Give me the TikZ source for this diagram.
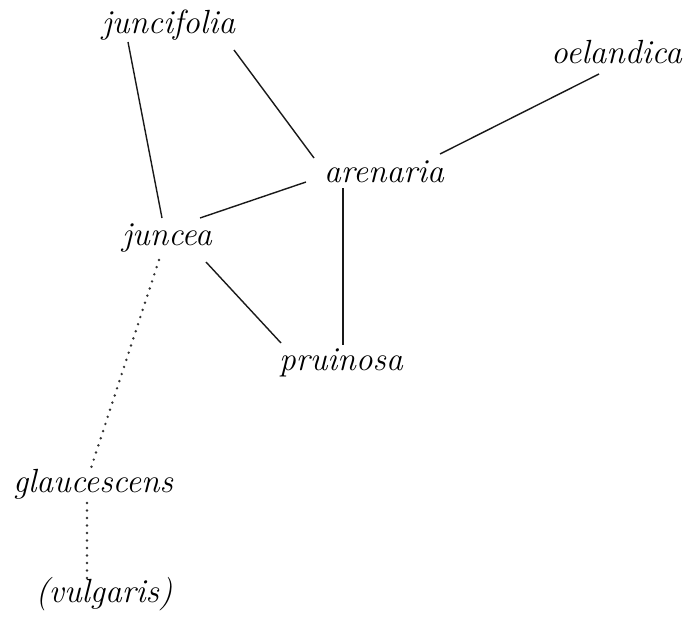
\documentclass[tikz,border=0pt]{standalone}
\usetikzlibrary{calc}
\begin{document}
\begin{tikzpicture}[x=1pt,y=-1pt,
  taxon/.style={inner sep=0pt,anchor=base,font=\fontsize{33.5}{40}\selectfont\itshape,text=black},
  link/.style={line width=1.4pt,black!90},
  dotlink/.style={line width=2.7pt,black!80,line cap=round,dash pattern=on 0pt off 7.5pt}]
\useasboundingbox (0,0) rectangle (685,619);
\node[taxon] (jf) at (168.5,33) {juncifolia};
\node[taxon] (oe) at (616.5,63) {oelandica};
\node[taxon] (ar) at (384,182) {arenaria};
\node[taxon] (ju) at (167,245) {juncea};
\node[taxon] (pr) at (341,370) {pruinosa};
\node[taxon] (gl) at (93,492) {glaucescens};
\node[taxon] (vu) at (104,602) {(vulgaris)};
\draw[link] ($(jf.base)+(-40.5,9)$) -- ($(ju.base)+(-5,-27)$);
\draw[link] ($(jf.base)+(65.5,17)$) -- ($(ar.base)+(-70,-24)$);
\draw[link] ($(oe.base)+(-17.5,11)$) -- ($(ar.base)+(56,-28)$);
\draw[link] ($(ar.base)+(-78,0)$) -- ($(ju.base)+(33,-27)$);
\draw[link] ($(ar.base)+(-41,6)$) -- ($(pr.base)+(2,-25)$);
\draw[link] ($(ju.base)+(39,17)$) -- ($(pr.base)+(-60,-27)$);
\draw[dotlink] ($(ju.base)+(-8,15)$) -- ($(gl.base)+(-2,-24)$);
\draw[dotlink] ($(gl.base)+(-6,11)$) -- ($(vu.base)+(-17,-19)$);
\end{tikzpicture}
\end{document}
